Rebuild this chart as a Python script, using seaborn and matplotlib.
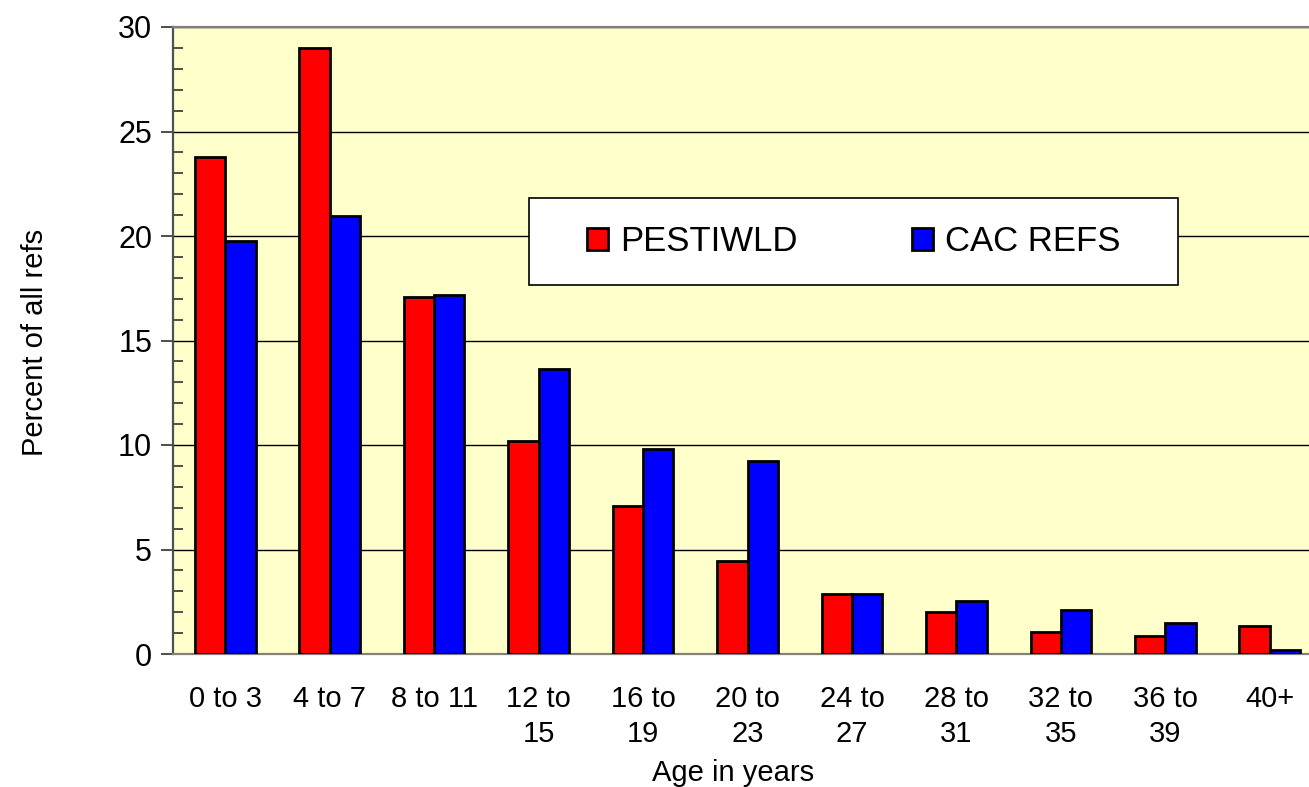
import matplotlib
matplotlib.use("Agg")
import matplotlib.pyplot as plt
import matplotlib.ticker as mticker
from matplotlib.patches import Rectangle
import seaborn as sns
import pandas as pd

age_groups = ["0 to 3", "4 to 7", "8 to 11", "12 to 15", "16 to 19", "20 to 23",
              "24 to 27", "28 to 31", "32 to 35", "36 to 39", "40+"]
tick_labels = ["0 to 3", "4 to 7", "8 to 11", "12 to\n15", "16 to\n19", "20 to\n23",
               "24 to\n27", "28 to\n31", "32 to\n35", "36 to\n39", "40+"]
pestiwld = [23.8, 29.0, 17.1, 10.2, 7.1, 4.45, 2.85, 2.0, 1.05, 0.85, 1.35]
cac_refs = [19.75, 20.95, 17.2, 13.65, 9.8, 9.25, 2.85, 2.55, 2.1, 1.5, 0.2]

df = pd.DataFrame({
    "age": age_groups * 2,
    "pct": pestiwld + cac_refs,
    "series": ["PESTIWLD"] * len(age_groups) + ["CAC REFS"] * len(age_groups),
})

sns.set_style("white")
plt.rcParams["font.family"] = ["Liberation Sans", "DejaVu Sans"]
plt.rcParams["text.color"] = "black"
plt.rcParams["axes.labelcolor"] = "black"
plt.rcParams["xtick.labelcolor"] = "black"
plt.rcParams["ytick.labelcolor"] = "black"

fig = plt.figure(figsize=(13.09, 7.87), dpi=100)
ax = fig.add_axes([173 / 1309, 1 - 654 / 787, 1149 / 1309, 627 / 787])
ax.set_facecolor("#FFFFCC")

sns.barplot(data=df, x="age", y="pct", hue="series", order=age_groups,
            hue_order=["PESTIWLD", "CAC REFS"],
            palette={"PESTIWLD": "#FF0000", "CAC REFS": "#0000FF"},
            width=0.58, edgecolor="black", linewidth=2, saturation=1,
            errorbar=None, ax=ax, zorder=3)

ax.set_xlim(-0.5, len(age_groups) - 0.5)
ax.set_ylim(0, 30)
ax.yaxis.set_major_locator(mticker.MultipleLocator(5))
ax.yaxis.set_minor_locator(mticker.MultipleLocator(1))
ax.grid(axis="y", which="major", color="black", linewidth=1, zorder=0)
ax.set_axisbelow(True)

ax.set_xticks(range(len(age_groups)))
ax.set_xticklabels(tick_labels, fontsize=21, linespacing=1.35, va="top")
ax.set_xticks([k - 0.5 for k in range(len(age_groups) + 1)], minor=True)
ax.tick_params(axis="x", which="major", length=0, pad=22)
ax.tick_params(axis="x", which="minor", length=9, width=1.2, color="#303030", direction="out")
ax.tick_params(axis="y", which="major", length=9, width=1.2, labelsize=22, pad=6,
               color="#303030", direction="out", left=True)
ax.tick_params(axis="y", which="minor", length=7, width=1.2, color="#303030",
               direction="in", left=True)

for side in ["top", "bottom", "left"]:
    ax.spines[side].set_visible(True)
    ax.spines[side].set_color("#808080")
    ax.spines[side].set_linewidth(1.6)
ax.spines["left"].set_color("#505050")
ax.spines["right"].set_visible(False)

ax.set_xlabel("Age in years", fontsize=21)
ax.xaxis.set_label_coords((733 - 173) / 1149, -(773 - 654) / 627)
ax.get_xaxis().label.set_va("center")
ax.set_ylabel("")
fig.text(35 / 1309, 1 - 342 / 787, "Percent of all refs", rotation=90,
         fontsize=21, ha="center", va="center")

# legend box
box_l, box_r, box_t, box_b = 529, 1178, 198, 285
ax.add_patch(Rectangle(((box_l - 173) / 1149, (654 - box_b) / 627),
                       (box_r - box_l) / 1149, (box_b - box_t) / 627,
                       transform=ax.transAxes, facecolor="white", edgecolor="black",
                       linewidth=1.2, zorder=5))
leg = ax.legend(loc="center",
                bbox_to_anchor=(((box_l + box_r) / 2 - 173) / 1149,
                                (654 - (box_t + box_b) / 2) / 627),
                ncol=2, fontsize=25, frameon=False,
                handlelength=0.6, handleheight=0.6, handletextpad=0.35,
                columnspacing=3.3, borderpad=0, borderaxespad=0)
leg.set_zorder(6)
leg.set_title(None)

fig.savefig("out.png", dpi=100)
